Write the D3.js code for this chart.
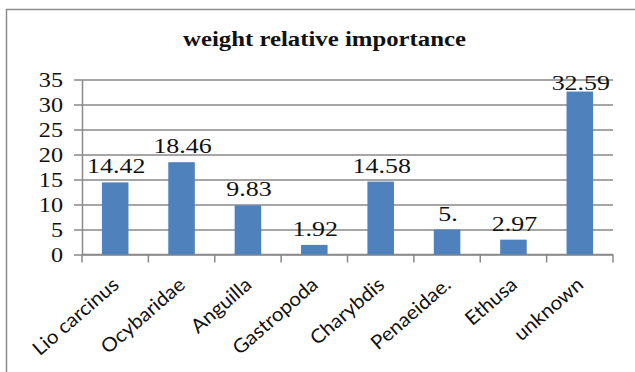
<!DOCTYPE html>
<html>
<head>
<meta charset="utf-8">
<script src="https://cdn.jsdelivr.net/npm/d3@7"></script>
<style>
  html, body { margin: 0; padding: 0; background: #fff; }
  svg { display: block; }
</style>
</head>
<body>
<svg id="chart" width="635" height="372"></svg>
<script>
// Weight relative importance of prey groups
const categories = ["Lio carcinus", "Ocybaridae", "Anguilla", "Gastropoda", "Charybdis", "Penaeidae.", "Ethusa", "unknown"];
const values = [14.42, 18.46, 9.83, 1.92, 14.58, 5, 2.97, 32.59];
const valueLabels = ["14.42", "18.46", "9.83", "1.92", "14.58", "5.", "2.97", "32.59"];
const yTicks = [0, 5, 10, 15, 20, 25, 30, 35];
const title = "weight relative importance";

const svg = d3.select("#chart");
const W = 635, H = 372;
const margin = { left: 82, right: 22, top: 79.5, bottom: 117.5 };

const gridColor = "#898989";
const barColor = "#4f81bd";
const serif = "'Liberation Serif', 'Times New Roman', serif";
const stretch = 1.18; // glyphs are drawn slightly wide

// outer chart frame (runs past the right and bottom edges)
svg.append("rect")
  .attr("x", 6.5).attr("y", 9.5)
  .attr("width", 700).attr("height", 420)
  .attr("fill", "#fff")
  .attr("stroke", "#8c8c8c")
  .attr("stroke-width", 1.5);

svg.append("text")
  .attr("transform", `translate(324.5,46) scale(${stretch},1)`)
  .attr("text-anchor", "middle")
  .attr("font-family", serif)
  .attr("font-weight", "bold")
  .attr("font-size", 21)
  .attr("fill", "#111")
  .text(title);

const x = d3.scaleBand()
  .domain(categories)
  .range([margin.left, W - margin.right])
  .paddingInner(0.6)
  .paddingOuter(0.3);

const y = d3.scaleLinear()
  .domain([0, 35])
  .range([H - margin.bottom, margin.top]);

// horizontal gridlines + y axis
const yAxis = d3.axisLeft(y)
  .tickValues(yTicks)
  .tickSize(-(W - margin.right - margin.left))
  .tickSizeOuter(0);

const gy = svg.append("g")
  .attr("transform", `translate(${margin.left},0)`)
  .call(yAxis);
gy.select(".domain").attr("stroke", gridColor).attr("stroke-width", 1.5);
gy.selectAll(".tick line")
  .attr("x1", -8)
  .attr("stroke", gridColor)
  .attr("stroke-width", 1.5);
gy.selectAll(".tick text")
  .attr("font-family", serif)
  .attr("font-size", 21)
  .attr("fill", "#111")
  .attr("x", 0)
  .attr("transform", `translate(-19,0) scale(${stretch - 0.03},1)`);

// x axis with ticks at category boundaries
const gx = svg.append("g")
  .attr("transform", `translate(0,${y(0)})`);
gx.append("line")
  .attr("x1", margin.left).attr("x2", W - margin.right)
  .attr("stroke", gridColor).attr("stroke-width", 1.5);
const step = x.step();
const bounds = d3.range(categories.length + 1).map(i => margin.left + i * step);
gx.selectAll("line.tk")
  .data(bounds)
  .join("line")
  .attr("class", "tk")
  .attr("x1", d => d).attr("x2", d => d)
  .attr("y1", 0).attr("y2", 8)
  .attr("stroke", gridColor).attr("stroke-width", 1.5);

gx.selectAll("text.cat")
  .data(categories)
  .join("text")
  .attr("class", "cat")
  .attr("transform", d => `translate(${x(d) + x.bandwidth() / 2 + 5},${32}) rotate(-41) scale(1.06,1)`)
  .attr("text-anchor", "end")
  .attr("font-family", "Lato, 'Open Sans', sans-serif")
  .attr("font-size", 19.5)
  .attr("fill", "#111")
  .text(d => d);

// bars
svg.append("g")
  .selectAll("rect")
  .data(values)
  .join("rect")
  .attr("x", (d, i) => x(categories[i]))
  .attr("y", d => y(d))
  .attr("width", x.bandwidth())
  .attr("height", d => y(0) - y(d))
  .attr("fill", barColor);

// value labels above bars, kept inside the top of the plot
svg.append("g")
  .selectAll("text")
  .data(values)
  .join("text")
  .attr("transform", (d, i) => {
    const cx = x(categories[i]) + x.bandwidth() / 2 + 1;
    const ty = Math.max(y(d) - 9, margin.top + 10.5);
    return `translate(${cx},${ty}) scale(${stretch},1)`;
  })
  .attr("text-anchor", "middle")
  .attr("font-family", serif)
  .attr("font-size", 22)
  .attr("fill", "#111")
  .text((d, i) => valueLabels[i]);
</script>
</body>
</html>
